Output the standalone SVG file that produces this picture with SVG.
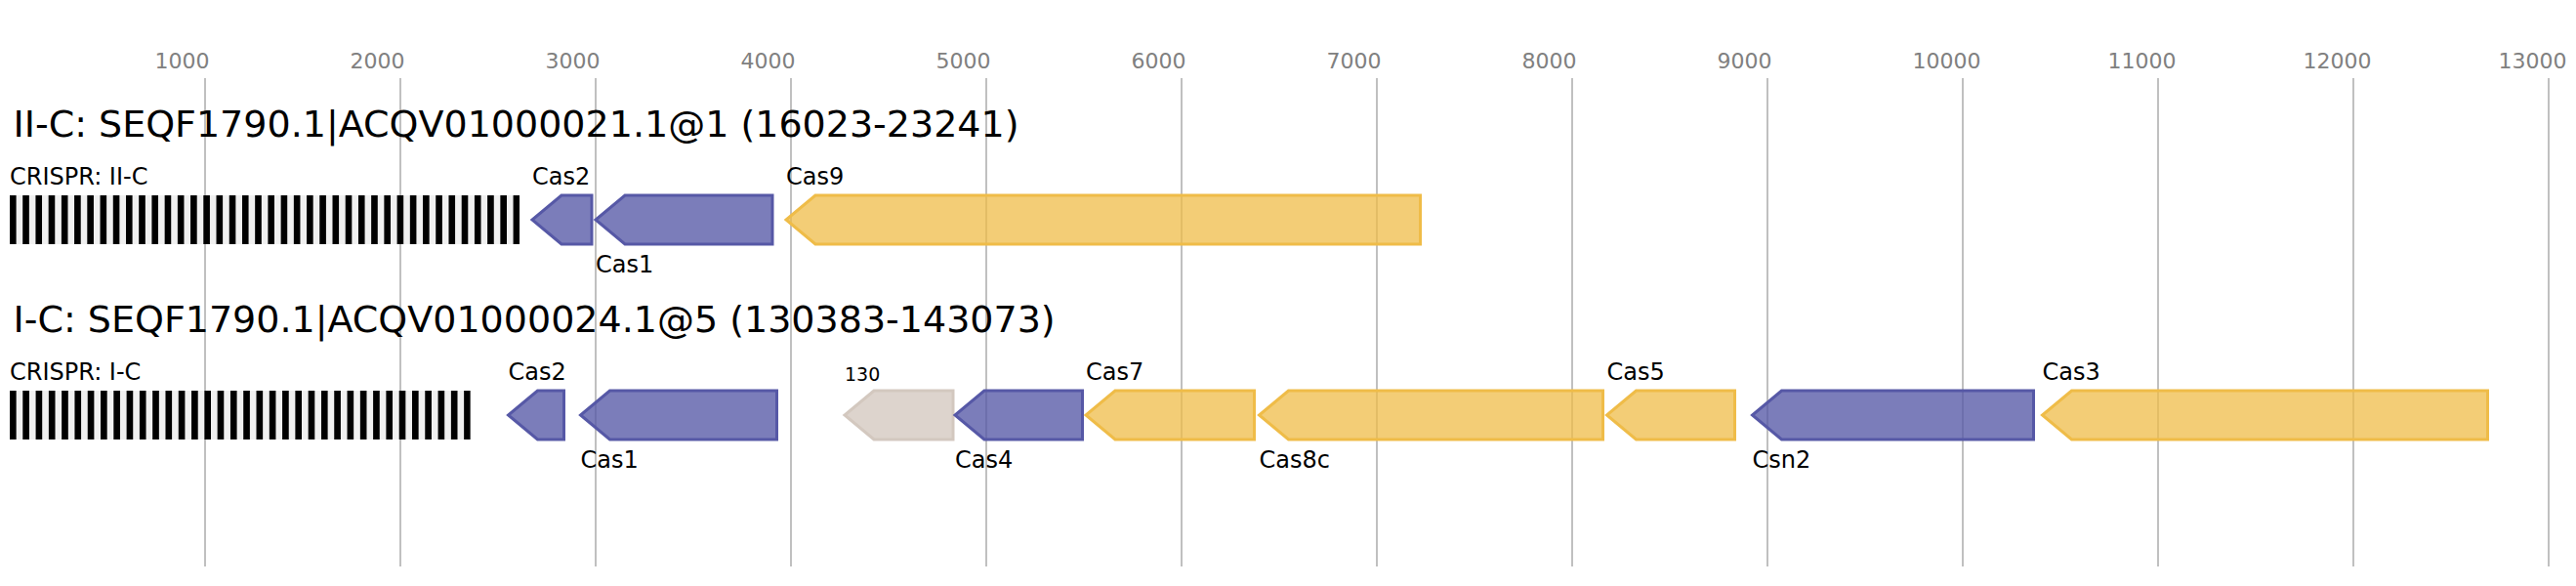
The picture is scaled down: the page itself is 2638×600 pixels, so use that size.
<svg xmlns="http://www.w3.org/2000/svg" width="2638" height="600" viewBox="0 0 2638 600">
<style>
text{font-family:"DejaVu Sans","Liberation Sans",sans-serif;fill:#000}
.tick{font-size:22px;fill:#808080}
.grid{stroke:#c0c0c0;stroke-width:2}
.title{font-size:38px}
.lbl{font-size:24px}
.small{font-size:19px}
.blue{fill:#5658a6;fill-opacity:0.78;stroke:#5658a6;stroke-width:3}
.yellow{fill:#efbc48;fill-opacity:0.75;stroke:#efbc48;stroke-width:3}
.gray{fill:#d3c8bf;fill-opacity:0.78;stroke:#d3c8bf;stroke-width:3}
</style>
<defs>
<pattern id="rep1" patternUnits="userSpaceOnUse" x="10" y="0" width="13.22" height="600">
<rect x="0" y="0" width="13.22" height="600" fill="#f0f0f0"/>
<rect x="0" y="0" width="6.61" height="600" fill="#000"/>
</pattern>
<pattern id="rep2" patternUnits="userSpaceOnUse" x="10" y="0" width="13.29" height="600">
<rect x="0" y="0" width="13.29" height="600" fill="#f0f0f0"/>
<rect x="0" y="0" width="6.645" height="600" fill="#000"/>
</pattern>
</defs>
<rect width="2638" height="600" fill="#fff"/>
<g id="axis">
<line class="grid" x1="210" y1="80" x2="210" y2="580"/>
<line class="grid" x1="410" y1="80" x2="410" y2="580"/>
<line class="grid" x1="610" y1="80" x2="610" y2="580"/>
<line class="grid" x1="810" y1="80" x2="810" y2="580"/>
<line class="grid" x1="1010" y1="80" x2="1010" y2="580"/>
<line class="grid" x1="1210" y1="80" x2="1210" y2="580"/>
<line class="grid" x1="1410" y1="80" x2="1410" y2="580"/>
<line class="grid" x1="1610" y1="80" x2="1610" y2="580"/>
<line class="grid" x1="1810" y1="80" x2="1810" y2="580"/>
<line class="grid" x1="2010" y1="80" x2="2010" y2="580"/>
<line class="grid" x1="2210" y1="80" x2="2210" y2="580"/>
<line class="grid" x1="2410" y1="80" x2="2410" y2="580"/>
<line class="grid" x1="2610" y1="80" x2="2610" y2="580"/>
<text class="tick" x="158.6" y="70">1000</text>
<text class="tick" x="358.6" y="70">2000</text>
<text class="tick" x="558.6" y="70">3000</text>
<text class="tick" x="758.6" y="70">4000</text>
<text class="tick" x="958.6" y="70">5000</text>
<text class="tick" x="1158.6" y="70">6000</text>
<text class="tick" x="1358.6" y="70">7000</text>
<text class="tick" x="1558.6" y="70">8000</text>
<text class="tick" x="1758.6" y="70">9000</text>
<text class="tick" x="1958.6" y="70">10000</text>
<text class="tick" x="2158.6" y="70">11000</text>
<text class="tick" x="2358.6" y="70">12000</text>
<text class="tick" x="2558.6" y="70">13000</text>
</g>
<g id="connectors"/>
<g id="row1">
<text class="title" x="13.5" y="140">II-C: SEQF1790.1|ACQV01000021.1@1 (16023-23241)</text>
<g id="crispr-II-C">
<text class="lbl" x="10" y="189">CRISPR: II-C</text>
<rect x="10" y="200" width="522.2" height="50" fill="url(#rep1)"/>
</g>
<g id="r1-cas2"><path class="blue" d="M606,200 L575,200 L545,225 L575,250 L606,250 Z"/><text class="lbl" x="545" y="189">Cas2</text></g>
<g id="r1-cas1"><path class="blue" d="M791,200 L640,200 L610,225 L640,250 L791,250 Z"/><text class="lbl" x="610" y="279">Cas1</text></g>
<g id="r1-cas9"><path class="yellow" d="M1454.5,200 L835,200 L805,225 L835,250 L1454.5,250 Z"/><text class="lbl" x="805" y="189">Cas9</text></g>
</g>
<g id="row2">
<text class="title" x="13.5" y="340">I-C: SEQF1790.1|ACQV01000024.1@5 (130383-143073)</text>
<g id="crispr-I-C">
<text class="lbl" x="10" y="389">CRISPR: I-C</text>
<rect x="10" y="400" width="471.8" height="50" fill="url(#rep2)"/>
</g>
<g id="r2-cas2"><path class="blue" d="M577.5,400 L550.5,400 L520.5,425 L550.5,450 L577.5,450 Z"/><text class="lbl" x="520.5" y="389">Cas2</text></g>
<g id="r2-cas1"><path class="blue" d="M795.5,400 L624.5,400 L594.5,425 L624.5,450 L795.5,450 Z"/><text class="lbl" x="594.5" y="479">Cas1</text></g>
<g id="r2-130"><path class="gray" d="M976,400 L895,400 L865,425 L895,450 L976,450 Z"/><text class="small" x="865" y="390">130</text></g>
<g id="r2-cas4"><path class="blue" d="M1108.5,400 L1008,400 L978,425 L1008,450 L1108.5,450 Z"/><text class="lbl" x="978" y="479">Cas4</text></g>
<g id="r2-cas7"><path class="yellow" d="M1284.5,400 L1142,400 L1112,425 L1142,450 L1284.5,450 Z"/><text class="lbl" x="1112" y="389">Cas7</text></g>
<g id="r2-cas8c"><path class="yellow" d="M1641.5,400 L1319.5,400 L1289.5,425 L1319.5,450 L1641.5,450 Z"/><text class="lbl" x="1289.5" y="479">Cas8c</text></g>
<g id="r2-cas5"><path class="yellow" d="M1776.5,400 L1675.5,400 L1645.5,425 L1675.5,450 L1776.5,450 Z"/><text class="lbl" x="1645.5" y="389">Cas5</text></g>
<g id="r2-csn2"><path class="blue" d="M2082.5,400 L1824.5,400 L1794.5,425 L1824.5,450 L2082.5,450 Z"/><text class="lbl" x="1794.5" y="479">Csn2</text></g>
<g id="r2-cas3"><path class="yellow" d="M2547.5,400 L2121.5,400 L2091.5,425 L2121.5,450 L2547.5,450 Z"/><text class="lbl" x="2091.5" y="389">Cas3</text></g>
</g>
</svg>
